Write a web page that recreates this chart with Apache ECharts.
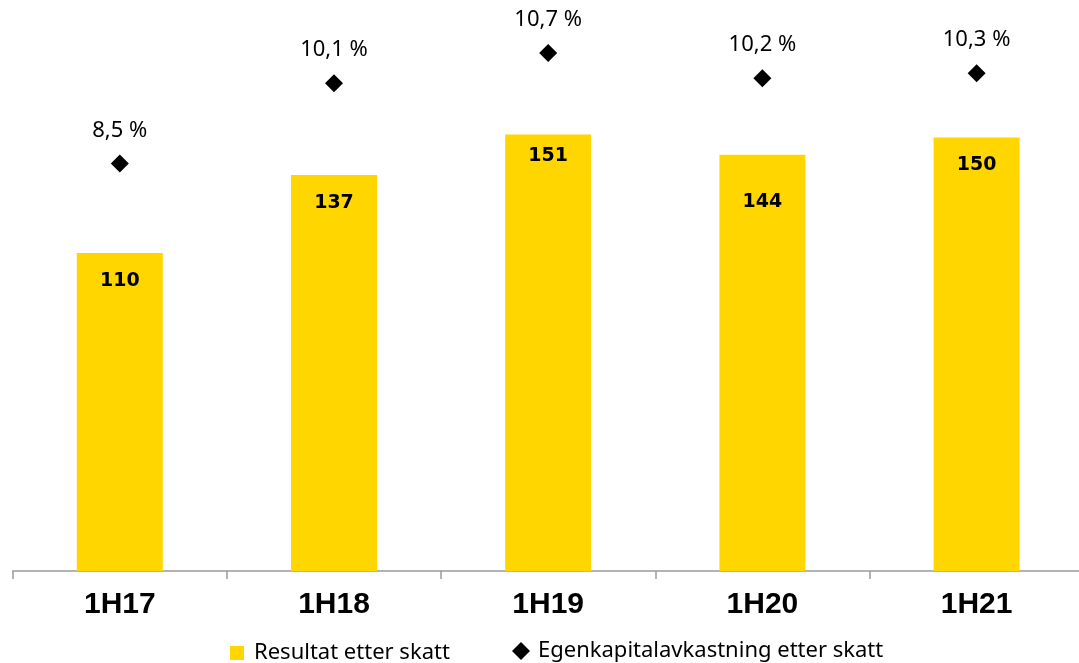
<!DOCTYPE html>
<html>
<head>
<meta charset="utf-8">
<script src="https://cdn.jsdelivr.net/npm/echarts@6/dist/echarts.min.js"></script>
<style>
  html, body { margin: 0; padding: 0; background: #fff; }
  #chart { width: 1079px; height: 663px; }
</style>
</head>
<body>
<div id="chart"></div>
<script>
// Half-year periods
const periods = ['1H17', '1H18', '1H19', '1H20', '1H21'];
// Profit after tax (bars)
const resultatEtterSkatt = [110, 137, 151, 144, 150];
// Return on equity after tax, percent (diamonds)
const egenkapitalavkastning = [8.5, 10.1, 10.7, 10.2, 10.3];

const seriesNames = ['Resultat etter skatt', 'Egenkapitalavkastning etter skatt'];

const pct = v => v.toFixed(1).replace('.', ',') + ' %';

// gap between each bar top and its value label
const barLabelGap = [18, 18, 12, 38, 18];

const chart = echarts.init(document.getElementById('chart'), null, { renderer: 'canvas' });

chart.setOption({
  animation: false,
  backgroundColor: '#ffffff',
  // plot area runs slightly past the right edge of the canvas
  grid: {
    left: 12.7, width: 1071, top: 21.9, height: 549.1,
    containLabel: false, outerBoundsMode: 'none'
  },
  legend: [
    {
      data: [{ name: seriesNames[0], icon: 'rect' }],
      left: 225, top: 637,
      itemWidth: 14, itemHeight: 14,
      textStyle: { fontFamily: 'Noto Sans', fontSize: 22, color: '#000', padding: [0, 0, 0, 5] }
    },
    {
      data: [{ name: seriesNames[1], icon: 'diamond' }],
      left: 507, top: 635,
      itemWidth: 18, itemHeight: 18,
      textStyle: { fontFamily: 'Noto Sans', fontSize: 22, color: '#000', padding: [0, 0, 0, 3] }
    }
  ],
  xAxis: {
    type: 'category',
    data: periods,
    boundaryGap: true,
    axisLine: { show: true, lineStyle: { color: '#9a9a9a', width: 1.5 } },
    axisTick: { show: true, length: 8, lineStyle: { color: '#9a9a9a', width: 1.5 } },
    axisLabel: {
      margin: 19,
      fontFamily: 'Liberation Sans', fontWeight: 'bold', fontSize: 30, color: '#000'
    },
    splitLine: { show: false }
  },
  yAxis: [
    { type: 'value', min: 0, max: 190, show: false, splitLine: { show: false } },
    { type: 'value', min: 0.39, max: 11.32, show: false, splitLine: { show: false } }
  ],
  series: [
    {
      name: seriesNames[0],
      type: 'bar',
      data: resultatEtterSkatt.map((v, i) => ({ value: v, label: { distance: barLabelGap[i] } })),
      barWidth: 86,
      itemStyle: { color: '#FFD600' },
      label: {
        show: true, position: 'insideTop', distance: 18,
        fontFamily: 'DejaVu Sans', fontWeight: 'bold', fontSize: 19, color: '#000'
      }
    },
    {
      name: seriesNames[1],
      type: 'scatter',
      yAxisIndex: 1,
      data: egenkapitalavkastning,
      symbol: 'diamond',
      symbolSize: 18,
      itemStyle: { color: '#000', opacity: 1 },
      label: {
        show: true, position: 'top', distance: 13,
        formatter: p => pct(p.value),
        fontFamily: 'Noto Sans', fontSize: 22, color: '#000'
      }
    }
  ]
});
</script>
</body>
</html>
